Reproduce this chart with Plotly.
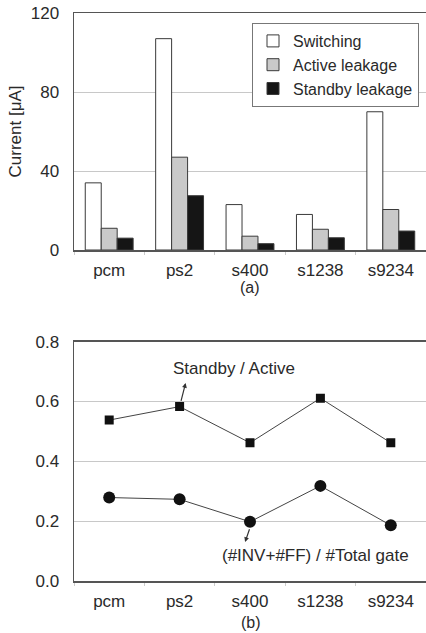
import plotly.graph_objects as go

categories = ["pcm", "ps2", "s400", "s1238", "s9234"]
switching = [34, 107, 23, 18, 70]
active_leakage = [11, 47, 7, 10.5, 20.5]
standby_leakage = [6, 27.5, 3.2, 6.2, 9.6]
standby_active_ratio = [0.538, 0.583, 0.462, 0.611, 0.462]
inv_ff_ratio = [0.279, 0.273, 0.198, 0.318, 0.186]
y1_ticks = [0, 40, 80, 120]
y2_ticks = [0.0, 0.2, 0.4, 0.6, 0.8]
y2_ticklabels = ["0.0", "0.2", "0.4", "0.6", "0.8"]

FONT = "Liberation Sans, Arial, sans-serif"
TXT = "#2a2a2a"
W, H = 426, 633


def px(x):
    return x / W


def py(y):
    return 1 - y / H


fig = go.Figure()
bar_line = dict(color="#3a3a3a", width=1)
fig.add_trace(go.Bar(x=categories, y=switching, name="Switching",
                     marker=dict(color="white", line=bar_line), xaxis="x", yaxis="y"))
fig.add_trace(go.Bar(x=categories, y=active_leakage, name="Active leakage",
                     marker=dict(color="#c9c9c9", line=bar_line), xaxis="x", yaxis="y"))
fig.add_trace(go.Bar(x=categories, y=standby_leakage, name="Standby leakage",
                     marker=dict(color="#151515", line=bar_line), xaxis="x", yaxis="y"))

fig.add_trace(go.Scatter(x=categories, y=standby_active_ratio, mode="lines+markers",
                         line=dict(color="#444", width=1),
                         marker=dict(symbol="square", size=9, color="#111"),
                         showlegend=False, xaxis="x2", yaxis="y2"))
fig.add_trace(go.Scatter(x=categories, y=inv_ff_ratio, mode="lines+markers",
                         line=dict(color="#444", width=1),
                         marker=dict(symbol="circle", size=12, color="#111"),
                         showlegend=False, xaxis="x2", yaxis="y2"))

xdom = [px(74), 1.0]
common_x = dict(domain=xdom, showline=True, linecolor="#555", linewidth=1.5, mirror=True,
                ticks="outside", tickson="boundaries", ticklen=3, tickcolor="#ccc",
                tickfont=dict(size=17, color=TXT, family=FONT), showgrid=False,
                ticklabelstandoff=4, fixedrange=True, automargin=False)
common_y = dict(showline=True, linecolor="#555", linewidth=1.5, mirror=False,
                showgrid=True, gridcolor="#c8c8c8", gridwidth=1, zeroline=False,
                ticks="", tickfont=dict(size=17, color=TXT, family=FONT),
                ticklabelstandoff=10, fixedrange=True, automargin=False)

fig.update_layout(
    width=W, height=H, margin=dict(l=0, r=0, t=0, b=0, autoexpand=False),
    paper_bgcolor="white", plot_bgcolor="white",
    font=dict(family=FONT, color=TXT, size=17),
    barmode="group", bargap=0.32, bargroupgap=0,
    xaxis=dict(**common_x, anchor="y", range=[-0.5, 4.5]),
    yaxis=dict(**common_y, domain=[py(250), py(13)], range=[0, 120],
               tickvals=y1_ticks, anchor="x"),
    xaxis2=dict(**common_x, anchor="y2", range=[-0.5, 4.5]),
    yaxis2=dict(**common_y, domain=[py(581), py(341.7)], range=[0, 0.8],
                tickvals=y2_ticks, ticktext=y2_ticklabels, anchor="x2"),
    legend=dict(x=px(419), y=py(23), xanchor="right", yanchor="top",
                bgcolor="white", bordercolor="#777", borderwidth=1,
                font=dict(size=16, color=TXT, family=FONT),
                itemwidth=30),
    showlegend=True,
)

mid = dict(xanchor="center", yanchor="middle", showarrow=False)
annotations = [
    dict(text="Current [μA]", xref="paper", yref="paper", x=px(15), y=py(131.5),
         textangle=-90, font=dict(size=17, color=TXT), **mid),
    dict(text="(a)", xref="paper", yref="paper", x=px(250), y=py(287),
         font=dict(size=16, color=TXT), **mid),
    dict(text="(b)", xref="paper", yref="paper", x=px(251), y=py(622),
         font=dict(size=16, color=TXT), **mid),
    dict(text="Standby / Active", xref="x2", yref="y2", x=1.77, y=0.712,
         font=dict(size=17, color=TXT), **mid),
    dict(text="(#INV+#FF) / #Total gate", xref="x2", yref="y2", x=2.93, y=0.084,
         font=dict(size=17, color=TXT), **mid),
    dict(text="", xref="x2", yref="y2", x=1.086, y=0.662, axref="x2", ayref="y2",
         ax=1.015, ay=0.597, showarrow=True, arrowhead=2, arrowsize=0.8,
         arrowwidth=1.2, arrowcolor="#333"),
    dict(text="", xref="x2", yref="y2", x=1.93, y=0.130, axref="x2", ayref="y2",
         ax=2.0, ay=0.178, showarrow=True, arrowhead=2, arrowsize=0.8,
         arrowwidth=1.2, arrowcolor="#333"),
]
fig.update_layout(annotations=annotations)

fig.write_html(
    "out.html",
    config={"displayModeBar": False, "staticPlot": True},
    post_script="document.documentElement.style.margin='0';"
                "document.body.style.margin='0';"
                "document.body.style.overflow='hidden';",
)
